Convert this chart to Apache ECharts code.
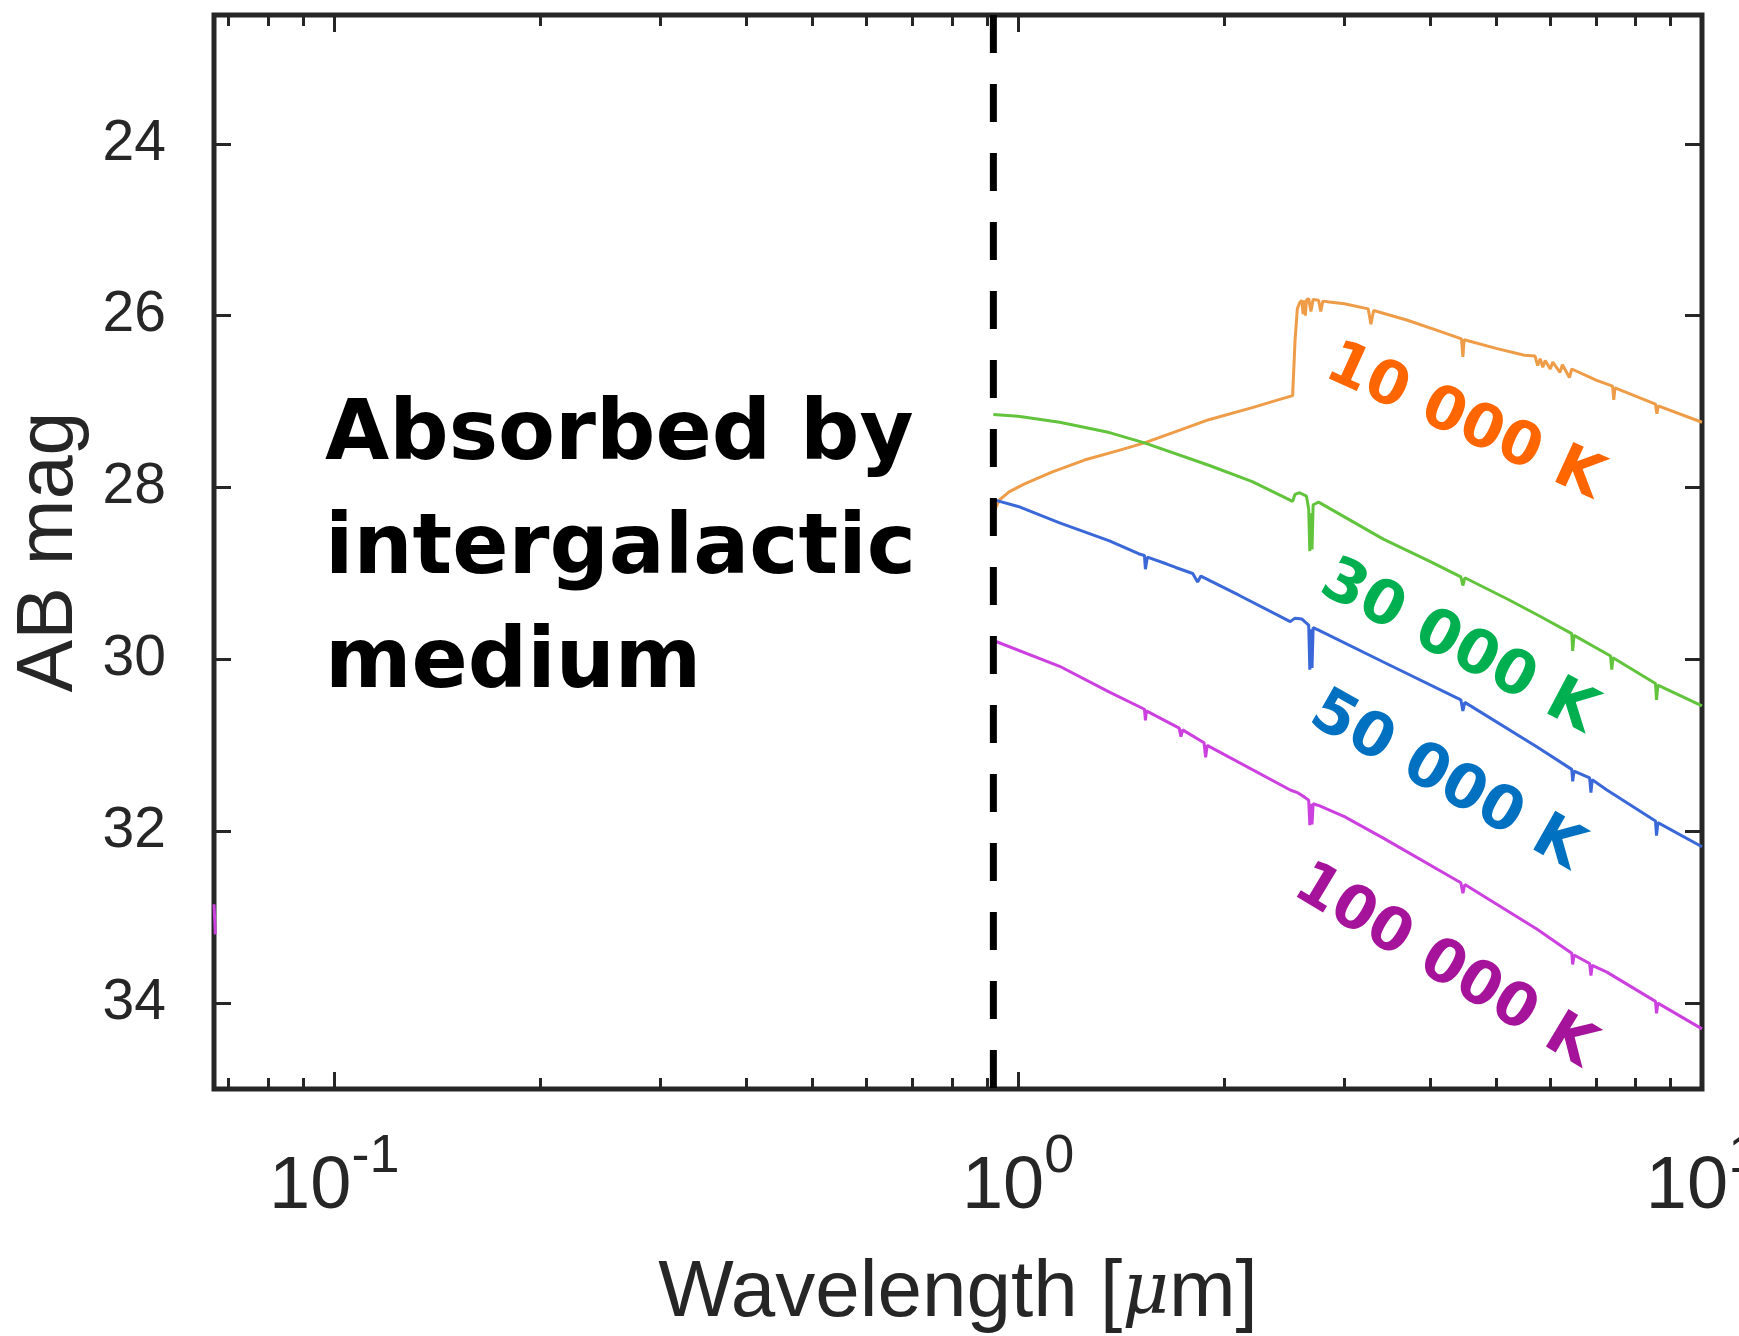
<!DOCTYPE html>
<html>
<head>
<meta charset="utf-8">
<script src="https://cdn.jsdelivr.net/npm/echarts@6/dist/echarts.min.js"></script>
<style>
html,body{margin:0;padding:0;background:#fff;}
#chart{width:1739px;height:1336px;}
</style>
</head>
<body>
<div id="chart"></div>
<script>
// ---- axis ranges & ticks ----
const xMin = 0.0667, xMax = 10;
const yMin = 22.5, yMax = 35;
const cutoff = 0.92; // IGM absorption edge (µm)
const xMajorTicks = [0.1, 1, 10];
const xMinorTicks = [0.07, 0.08, 0.09, 0.2, 0.3, 0.4, 0.5, 0.6, 0.7, 0.8, 0.9, 2, 3, 4, 5, 6, 7, 8, 9];
const yTicks = [24, 26, 28, 30, 32, 34];

// ---- series: wavelength (µm) and AB magnitude ----
const wl10k = [0.92, 0.925, 0.94, 0.97, 1.02, 1.12, 1.25, 1.40, 1.53, 1.70, 1.90, 2.20, 2.40, 2.52, 2.54, 2.56, 2.58, 2.60, 2.61, 2.62, 2.63, 2.64, 2.66, 2.68, 2.70, 2.75, 2.77, 2.79, 2.85, 3.0, 3.25, 3.28, 3.31, 3.7, 4.1, 4.45, 4.47, 4.49, 5.0, 5.5, 5.7, 5.75, 5.8, 5.85, 5.9, 6.0, 6.05, 6.2, 6.25, 6.4, 6.45, 7.0, 7.40, 7.43, 7.46, 8.55, 8.59, 8.63, 10];
const mag10k = [28.42, 28.25, 28.14, 28.05, 27.96, 27.82, 27.68, 27.57, 27.48, 27.35, 27.21, 27.07, 26.98, 26.93, 26.30, 25.92, 25.85, 25.82, 25.98, 25.82, 26.00, 25.82, 25.80, 25.95, 25.81, 25.82, 25.95, 25.83, 25.84, 25.86, 25.92, 26.10, 25.94, 26.05, 26.17, 26.27, 26.48, 26.28, 26.38, 26.46, 26.47, 26.58, 26.50, 26.60, 26.52, 26.62, 26.54, 26.66, 26.57, 26.72, 26.62, 26.75, 26.82, 26.98, 26.84, 27.03, 27.14, 27.05, 27.24];

const wl30k = [0.92, 1.0, 1.15, 1.36, 1.53, 1.90, 2.20, 2.52, 2.54, 2.58, 2.64, 2.66, 2.67, 2.68, 2.69, 2.70, 2.75, 3.42, 4.0, 4.44, 4.47, 4.50, 5.2, 5.74, 6.45, 6.47, 6.50, 7.35, 7.38, 7.41, 8.55, 8.58, 8.62, 10];
const mag30k = [27.15, 27.17, 27.24, 27.36, 27.48, 27.74, 27.93, 28.16, 28.08, 28.06, 28.10, 28.25, 28.74, 28.30, 28.72, 28.20, 28.17, 28.60, 28.86, 29.04, 29.14, 29.05, 29.30, 29.48, 29.70, 29.90, 29.72, 29.96, 30.12, 29.98, 30.28, 30.47, 30.30, 30.54];

const wl50k = [0.92, 1.0, 1.15, 1.36, 1.50, 1.53, 1.535, 1.545, 1.65, 1.70, 1.80, 1.83, 1.85, 2.10, 2.50, 2.54, 2.60, 2.66, 2.67, 2.68, 2.69, 2.70, 2.75, 3.42, 4.44, 4.47, 4.50, 5.74, 6.45, 6.47, 6.50, 6.85, 6.88, 6.91, 7.26, 8.55, 8.58, 8.62, 10];
const mag50k = [28.14, 28.22, 28.41, 28.62, 28.77, 28.79, 28.95, 28.81, 28.89, 28.93, 29.00, 29.10, 29.03, 29.25, 29.56, 29.52, 29.53, 29.60, 30.12, 29.65, 30.10, 29.63, 29.66, 30.03, 30.47, 30.60, 30.50, 31.02, 31.28, 31.42, 31.30, 31.38, 31.55, 31.40, 31.52, 31.88, 32.05, 31.90, 32.18];

const wl100k = [0.0667, 0.0670, null, 0.92, 1.15, 1.36, 1.53, 1.535, 1.54, 1.72, 1.73, 1.74, 1.87, 1.88, 1.89, 1.90, 2.50, 2.56, 2.62, 2.66, 2.67, 2.68, 2.69, 2.70, 2.75, 3.0, 3.42, 4.44, 4.47, 4.50, 5.74, 6.45, 6.47, 6.50, 6.85, 6.88, 6.91, 7.26, 8.55, 8.58, 8.62, 10];
const mag100k = [32.85, 33.20, null, 29.78, 30.08, 30.38, 30.58, 30.71, 30.60, 30.80, 30.90, 30.82, 30.97, 31.14, 31.00, 31.02, 31.52, 31.55, 31.60, 31.64, 31.93, 31.68, 31.92, 31.68, 31.70, 31.83, 32.08, 32.60, 32.72, 32.62, 33.14, 33.42, 33.55, 33.44, 33.54, 33.68, 33.56, 33.64, 33.98, 34.12, 34.00, 34.30];

const seriesNames = ['10 000 K', '30 000 K', '50 000 K', '100 000 K'];
const lineColors = ['#EE9C48', '#62C43C', '#3A68D8', '#CC40E0'];
const labelColors = ['#FF6600', '#00B050', '#0070C0', '#A5139B'];

function pairs(xs, ys) {
  return xs.map((x, i) => (x === null ? [null, null] : [x, ys[i]]));
}

const AX = '#262626';
const tickFont = 'Liberation Sans, Arial, Helvetica, sans-serif';

const chart = echarts.init(document.getElementById('chart'), null, {renderer: 'canvas'});

function xAxisCfg(position, values, len, showLabel) {
  return {
    type: 'log', logBase: 10, min: xMin, max: xMax, position: position,
    gridIndex: 0,
    axisLine: {show: false},
    splitLine: {show: false},
    minorTick: {show: false},
    axisTick: {show: true, inside: true, length: len, customValues: values, lineStyle: {color: AX, width: 3}},
    axisLabel: showLabel ? {
      show: true, margin: 47, customValues: xMajorTicks, hideOverlap: false,
      formatter: function (v) {
        const e = Math.round(Math.log10(v));
        return '{b|10}{s|' + e + '}';
      },
      rich: {
        b: {fontFamily: tickFont, fontSize: 74, color: AX, lineHeight: 74, padding: [30, 0, 0, 0]},
        s: {fontFamily: tickFont, fontSize: 54, color: AX, lineHeight: 54, padding: [0, 0, 32, 0]}
      }
    } : {show: false}
  };
}

const option = {
  backgroundColor: '#ffffff',
  animation: false,
  grid: {left: 214, top: 15, width: 1488, height: 1074, show: true, borderColor: AX, borderWidth: 5,
    backgroundColor: 'transparent', containLabel: false, outerBoundsMode: 'none'},
  xAxis: [
    Object.assign(xAxisCfg('bottom', xMajorTicks, 17, true), {
      name: '{n|Wavelength [}{m|\u03bc}{n|m]}', nameLocation: 'middle', nameGap: 165, nameMoveOverlap: false,
      nameTextStyle: {rich: {
        n: {fontFamily: tickFont, fontSize: 80, color: AX},
        m: {fontFamily: 'DejaVu Serif, serif', fontStyle: 'italic', fontSize: 72, color: AX}
      }}
    }),
    xAxisCfg('bottom', xMinorTicks, 11, false),
    xAxisCfg('top', xMajorTicks, 17, false),
    xAxisCfg('top', xMinorTicks, 11, false)
  ],
  yAxis: [
    {
      type: 'value', inverse: true, min: yMin, max: yMax, position: 'left',
      axisLine: {show: false}, splitLine: {show: false},
      axisTick: {show: true, inside: true, length: 17, customValues: yTicks, lineStyle: {color: AX, width: 3}},
      axisLabel: {show: true, customValues: yTicks, margin: 48, fontFamily: tickFont, fontSize: 57, color: AX},
      name: 'AB mag', nameLocation: 'middle', nameGap: 124, nameMoveOverlap: false,
      nameTextStyle: {fontFamily: tickFont, fontSize: 79, color: AX}
    },
    {
      type: 'value', inverse: true, min: yMin, max: yMax, position: 'right',
      axisLine: {show: false}, splitLine: {show: false},
      axisTick: {show: true, inside: true, length: 17, customValues: yTicks, lineStyle: {color: AX, width: 3}},
      axisLabel: {show: false}
    }
  ],
  series: [
    {name: seriesNames[0], type: 'line', data: pairs(wl10k, mag10k), showSymbol: false, clip: true, lineStyle: {color: lineColors[0], width: 3}, z: 3},
    {name: seriesNames[1], type: 'line', data: pairs(wl30k, mag30k), showSymbol: false, clip: true, lineStyle: {color: lineColors[1], width: 3}, z: 3},
    {name: seriesNames[2], type: 'line', data: pairs(wl50k, mag50k), showSymbol: false, clip: true, lineStyle: {color: lineColors[2], width: 3}, z: 3},
    {name: seriesNames[3], type: 'line', data: pairs(wl100k, mag100k), showSymbol: false, clip: true, connectNulls: false, lineStyle: {color: lineColors[3], width: 3}, z: 3},
    {name: 'cutoff', type: 'line', data: [[cutoff, yMin], [cutoff, yMax]], showSymbol: false, clip: true,
      lineStyle: {color: '#000000', width: 7, type: [38, 31]}, z: 4}
  ],
  graphic: [
    {type: 'text', left: 325, top: 396, style: {text: 'Absorbed by', font: 'bold 83px "DejaVu Sans"', fill: '#000'}},
    {type: 'text', left: 325, top: 510, style: {text: 'intergalactic', font: 'bold 83px "DejaVu Sans"', fill: '#000'}},
    {type: 'text', left: 325, top: 624, style: {text: 'medium', font: 'bold 83px "DejaVu Sans"', fill: '#000'}},
    {type: 'text', x: 1464, y: 423, rotation: -24.5 * Math.PI / 180, style: {text: seriesNames[0], font: 'bold 60px "DejaVu Sans"', fill: labelColors[0], align: 'center', verticalAlign: 'middle'}},
    {type: 'text', x: 1458, y: 648, rotation: -28 * Math.PI / 180, style: {text: seriesNames[1], font: 'bold 61px "DejaVu Sans"', fill: labelColors[1], align: 'center', verticalAlign: 'middle'}},
    {type: 'text', x: 1446, y: 782, rotation: -29.5 * Math.PI / 180, style: {text: seriesNames[2], font: 'bold 61px "DejaVu Sans"', fill: labelColors[2], align: 'center', verticalAlign: 'middle'}},
    {type: 'text', x: 1444, y: 967, rotation: -31 * Math.PI / 180, style: {text: seriesNames[3], font: 'bold 60px "DejaVu Sans"', fill: labelColors[3], align: 'center', verticalAlign: 'middle'}}
  ]
};
chart.setOption(option);
</script>
</body>
</html>
